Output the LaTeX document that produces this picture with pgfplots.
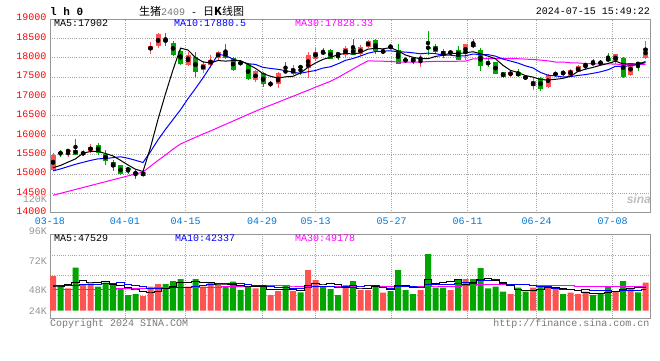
\documentclass[border=0pt]{standalone}
\usepackage{fontspec}
\setmainfont{Liberation Mono}
\newfontfamily\cjk{Noto Sans CJK SC}
\newfontfamily\sansf{Liberation Sans}
\usepackage{pgfplots}
\usepackage{pgfplotstable}
\pgfplotsset{compat=1.18}
\definecolor{kred}{RGB}{255,82,82}
\definecolor{kgreen}{RGB}{0,165,0}
\definecolor{kblue}{RGB}{0,0,255}
\definecolor{kmag}{RGB}{255,0,255}
\definecolor{datecol}{RGB}{0,120,215}
\definecolor{txtgray}{RGB}{120,120,120}
\definecolor{lblgray}{RGB}{150,150,150}
\definecolor{gridcol}{RGB}{165,165,165}
\definecolor{bordercol}{RGB}{150,150,150}

% up candles (red): index open high low close volume(K)
\pgfplotstableread{
i O H L C V
0 15110 15540 15080 15480 69.4
2 15570 15640 15430 15620 44.8
4 15500 15610 15460 15560 51.4
5 15600 15770 15530 15700 54.8
12 14950 15080 14920 15050 29.4
13 18190 18395 18095 18300 48.0
14 18300 18630 18250 18610 53.4
18 17820 18160 17795 18060 48.0
20 17690 17905 17605 17840 48.0
21 17820 18060 17735 17950 56.0
22 17990 18185 17950 18160 51.4
27 17420 17690 17370 17650 44.8
29 17310 17390 17240 17350 31.4
30 17310 17630 17210 17605 39.4
32 17580 17820 17545 17720 39.4
34 17735 18140 17480 18075 81.4
35 17965 18245 17925 18160 61.4
39 18075 18300 18030 18245 51.4
41 18090 18320 18040 18270 41.4
42 18265 18470 18250 18440 41.4
44 18130 18240 18100 18180 36.0
49 17960 18070 17750 17995 41.4
53 18115 18190 18060 18165 41.4
55 18100 18360 17940 18345 63.4
61 17560 17660 17500 17625 33.4
64 17280 17480 17160 17400 46.0
66 17250 17590 17230 17565 51.4
67 17550 17660 17500 17610 44.8
69 17530 17720 17520 17690 36.0
70 17630 17800 17620 17790 33.4
71 17770 17870 17690 17860 38.0
75 17910 18100 17850 18090 39.4
77 17560 17870 17530 17860 44.8
79 17990 18440 17980 18250 56.0
}\upk

% down candles (green)
\pgfplotstableread{
i O H L C V
1 15560 15620 15440 15520 50.0
3 15630 15910 15480 15500 86.0
6 15760 15800 15500 15540 48.0
7 15520 15620 15240 15340 56.0
8 15300 15370 15070 15190 51.4
9 15220 15240 14970 14990 44.8
10 15150 15190 14990 15100 31.4
11 15060 15110 14880 14990 33.4
15 18480 18650 18300 18400 53.4
16 18390 18440 18050 18080 59.4
17 18170 18245 17820 17850 63.4
19 18010 18160 17500 17630 63.4
23 18185 18350 17970 17990 48.0
24 17990 18015 17650 17690 58.0
25 17880 17920 17800 17840 41.4
26 17845 17860 17420 17460 48.0
28 17605 17620 17250 17310 48.0
31 17665 17880 17605 17625 51.4
33 17780 17800 17560 17740 36.8
36 18160 18245 18060 18100 48.0
37 18200 18220 17960 17980 43.4
38 18110 18140 17940 18080 31.4
40 18245 18480 18060 18075 59.4
43 18470 18475 18100 18180 51.4
45 18300 18350 18230 18245 39.4
46 18205 18350 17830 17845 81.4
47 17960 18010 17860 17905 41.4
48 17985 18030 17850 17880 33.4
50 18265 18700 18060 18250 113.4
51 18310 18350 18120 18140 46.0
52 18180 18230 18000 18050 46.0
54 18210 18300 17930 17940 63.4
56 18370 18485 18260 18275 63.4
57 18210 18240 17670 17795 85.4
58 17870 17970 17755 17850 44.8
59 17880 17890 17570 17590 48.0
60 17625 17640 17480 17505 38.0
62 17630 17700 17500 17520 46.0
63 17520 17560 17420 17455 38.0
65 17490 17510 17140 17190 48.0
68 17630 17680 17540 17575 33.4
72 17870 17960 17810 17840 31.4
73 17880 17930 17820 17850 33.4
74 17985 18115 17890 17920 49.4
76 18005 18010 17470 17500 59.4
78 17880 17900 17670 17810 36.8
}\dnk

% price moving averages
\pgfplotstableread{
i m5 m10 m30
0 15160 15080 14450
1 15220 15130 14500
2 15305 15190 14550
3 15390 15250 14600
4 15536 15300 14650
5 15580 15350 14700
6 15584 15390 14750
7 15528 15400 14800
8 15466 15420 14850
9 15352 15444 14900
10 15232 15406 14950
11 15122 15353 15000
12 15064 15296 15050
13 15686 15576 15200
14 16410 15881 15350
15 17070 16151 15490
16 17688 16405 15640
17 18248 16656 15775
18 18200 16943 15860
19 18004 17207 15945
20 17892 17481 16030
21 17866 17777 16110
22 17928 18088 16195
23 17914 18057 16280
24 17926 17965 16365
25 17926 17909 16450
26 17828 17847 16535
27 17726 17827 16620
28 17590 17752 16700
29 17522 17724 16775
30 17475 17701 16850
31 17508 17668 16930
32 17522 17624 17005
33 17608 17599 17085
34 17753 17638 17160
35 17864 17670 17240
36 17959 17734 17315
37 18011 17767 17393
38 18079 17844 17490
39 18113 17933 17600
40 18096 17980 17710
41 18130 18045 17820
42 18222 18117 17920
43 18242 18161 17915
44 18229 18171 17910
45 18263 18180 17905
46 18178 18154 17890
47 18071 18147 17885
48 18011 18127 17885
49 17974 18102 17890
50 17975 18119 17900
51 18034 18106 17905
52 18063 18067 17905
53 18120 18066 17905
54 18109 18042 17910
55 18128 18052 17915
56 18155 18095 17970
57 18104 18084 17975
58 18042 18081 17975
59 17972 18041 17975
60 17804 17966 17975
61 17674 17915 17975
62 17619 17862 17975
63 17539 17791 17965
64 17501 17737 17955
65 17438 17621 17940
66 17426 17550 17920
67 17444 17532 17890
68 17468 17504 17890
69 17526 17514 17870
70 17646 17542 17865
71 17705 17566 17850
72 17751 17598 17845
73 17806 17637 17845
74 17852 17689 17845
75 17912 17779 17835
76 17840 17773 17825
77 17844 17798 17825
78 17836 17821 17825
79 17902 17877 17828
}\pma

% volume moving averages (K)
\pgfplotstableread{
i a5 a10 a30
0 49.4 50.0 42.0
1 49.4 50.0 42.0
2 52.0 50.0 42.0
3 56.8 51.0 43.0
4 60.3 52.0 43.0
5 57.4 53.0 43.0
6 57.0 53.0 43.0
7 59.2 54.0 43.0
8 52.3 55.0 43.0
9 51.0 55.7 44.5
10 46.3 51.9 44.5
11 43.4 50.2 44.5
12 38.1 48.7 44.5
13 37.4 44.9 44.5
14 39.1 45.1 46.0
15 43.5 44.9 46.0
16 48.7 46.1 46.0
17 55.5 46.8 46.0
18 55.5 46.5 46.0
19 57.5 48.3 46.0
20 56.4 50.0 46.0
21 55.8 52.2 47.0
22 53.4 54.4 47.0
23 53.4 54.4 47.5
24 52.3 54.9 48.0
25 51.0 53.7 48.5
26 49.4 52.6 49.0
27 48.0 50.7 49.5
28 48.0 50.7 50.0
29 42.7 47.5 50.5
30 42.3 46.6 49.5
31 43.0 46.2 49.5
32 41.9 45.0 49.4
33 39.7 43.9 47.7
34 49.7 46.2 48.7
35 54.1 48.2 48.9
36 53.4 48.2 48.9
37 54.2 48.1 48.5
38 53.1 46.4 47.9
39 47.1 48.4 48.1
40 46.7 50.4 49.0
41 45.4 49.4 49.3
42 45.0 49.6 49.7
43 49.0 51.1 49.8
44 45.9 46.5 49.2
45 41.9 44.3 48.7
46 49.9 47.7 49.5
47 49.9 47.5 48.7
48 46.3 47.7 48.3
49 47.4 46.7 47.5
50 62.2 52.1 49.7
51 55.1 52.5 49.4
52 56.0 53.0 49.2
53 57.6 52.0 49.0
54 62.0 54.7 49.1
55 52.0 57.1 49.9
56 55.5 55.3 50.4
57 63.4 59.7 51.7
58 64.1 60.9 51.6
59 61.0 61.5 52.2
60 55.9 54.0 52.1
61 49.9 52.7 51.5
62 42.0 52.7 51.8
63 40.7 52.4 51.8
64 40.3 50.6 50.6
65 42.3 49.1 50.2
66 45.9 47.9 50.3
67 45.6 43.8 50.3
68 44.7 42.7 50.4
69 42.7 41.5 49.9
70 39.8 41.0 49.0
71 37.1 41.5 48.9
72 34.4 40.0 48.6
73 34.4 39.6 48.0
74 37.1 39.9 48.4
75 38.3 39.1 48.4
76 42.6 39.9 47.7
77 45.3 39.9 47.8
78 46.0 40.2 47.9
79 47.3 42.2 49.2
}\vma

\pgfplotsset{
  kbase/.style={
    scale only axis, anchor=south west,
    width=600pt, xmin=-0.4, xmax=79.6,
    axis line style={draw=bordercol, line width=1pt},
    tick style={draw=none},
    scaled ticks=false,
    xtick={-0.4,9.6,17.69,27.87,35.03,45.16,55.29,64.49,74.63},
    grid=major,
    grid style={draw=gridcol, line width=0.9pt, dash pattern=on 1pt off 1.2pt},
    /pgf/number format/assume math mode=true,
    ticklabel style={font=\fontsize{10}{12}\selectfont},
  },
  wick/.style={only marks, mark=none, forget plot,
    error bars/.cd, y dir=both, y explicit, error mark=none,
    error bar style={line width=1pt, draw=#1}},
  body/.style={only marks, mark=none, forget plot,
    error bars/.cd, y dir=both, y explicit, error mark=none,
    error bar style={line width=5pt, draw=#1}},
}

\begin{document}
\begin{tikzpicture}[x=1pt,y=1pt]
\fill[white] (0,0) rectangle (660,360);
\path[use as bounding box] (0,0) rectangle (660,360);

% ---------- price panel ----------
\begin{axis}[kbase,
  at={(50pt,147.3pt)}, height=193.7pt,
  ymin=14000, ymax=19000,
  ytick={14000,14500,15000,15500,16000,16500,17000,17500,18000,18500,19000},
  yticklabels={14000,14500,15000,15500,16000,16500,17000,17500,18000,18500,19000},
  yticklabel style={text=red, yshift=1.5pt},
  xticklabels={03-18,04-01,04-15,04-29,05-13,05-27,06-11,06-24,07-08},
  xticklabel style={text=datecol, anchor=center, yshift=-8pt},
]
\addplot[wick=kred] table[x=i, y expr={(\thisrow{H}+\thisrow{L})/2}, y error expr={(\thisrow{H}-\thisrow{L})/2}] {\upk};
\addplot[body=kred] table[x=i, y expr={(\thisrow{O}+\thisrow{C})/2}, y error expr={abs(\thisrow{C}-\thisrow{O})/2}] {\upk};
\addplot[wick=kgreen] table[x=i, y expr={(\thisrow{H}+\thisrow{L})/2}, y error expr={(\thisrow{H}-\thisrow{L})/2}] {\dnk};
\addplot[body=kgreen] table[x=i, y expr={(\thisrow{O}+\thisrow{C})/2}, y error expr={abs(\thisrow{C}-\thisrow{O})/2}] {\dnk};
\addplot[kmag, line width=1pt, mark=none] table[x=i, y=m30] {\pma};
\addplot[kblue, line width=1pt, mark=none] table[x=i, y=m10] {\pma};
\addplot[black, line width=1pt, mark=none] table[x=i, y=m5] {\pma};
\end{axis}

% ---------- volume panel ----------
\begin{axis}[kbase,
  at={(50pt,41.7pt)}, height=84pt,
  ymin=-15.2, ymax=152.8,
  ytick={31.4,71.4,111.4}, yticklabels={},
  xticklabels={},
]
\addplot[ybar, bar width=6pt, bar shift=0pt, fill=kred, draw=none] table[x=i, y=V] {\upk};
\addplot[ybar, bar width=6pt, bar shift=0pt, fill=kgreen, draw=none] table[x=i, y=V] {\dnk};
\addplot[kmag, line width=1pt, mark=none, const plot mark mid] table[x=i, y=a30] {\vma};
\addplot[kblue, line width=1pt, mark=none, const plot mark mid] table[x=i, y=a10] {\vma};
\addplot[black, line width=1pt, mark=none, const plot mark mid] table[x=i, y=a5] {\vma};
\end{axis}

% ---------- texts ----------
\node[anchor=west, inner sep=0pt, font=\fontsize{11}{12}\selectfont\bfseries] at (50,348) {l h 0};
\node[anchor=west, inner sep=0pt] at (139,348.5) {{\cjk\fontsize{11}{12}\selectfont 生猪}{\fontsize{10}{12}\selectfont\color{txtgray}2409}{\fontsize{10}{12}\selectfont{} - }{\cjk\fontsize{11}{12}\selectfont 日\textbf{K}线图}};
\node[anchor=east, inner sep=0pt, font=\fontsize{10}{12}\selectfont] at (650,348.3) {2024-07-15 15:49:22};

\node[anchor=west, inner sep=0pt, font=\fontsize{10}{12}\selectfont, text=black] at (54,336.3) {MA5:17902};
\node[anchor=west, inner sep=0pt, font=\fontsize{10}{12}\selectfont, text=kblue] at (174,336.3) {MA10:17880.5};
\node[anchor=west, inner sep=0pt, font=\fontsize{10}{12}\selectfont, text=kmag] at (295,336.3) {MA30:17828.33};

\node[anchor=west, inner sep=0pt, font=\fontsize{10}{12}\selectfont, text=black] at (54,121.7) {MA5:47529};
\node[anchor=west, inner sep=0pt, font=\fontsize{10}{12}\selectfont, text=kblue] at (175,121.7) {MA10:42337};
\node[anchor=west, inner sep=0pt, font=\fontsize{10}{12}\selectfont, text=kmag] at (295,121.7) {MA30:49178};

\node[anchor=east, inner sep=0pt, font=\fontsize{10}{12}\selectfont, text=lblgray] at (47,160.3) {120K};
\node[anchor=east, inner sep=0pt, font=\fontsize{10}{12}\selectfont, text=lblgray] at (47,129.3) {96K};
\node[anchor=east, inner sep=0pt, font=\fontsize{10}{12}\selectfont, text=lblgray] at (47,99) {72K};
\node[anchor=east, inner sep=0pt, font=\fontsize{10}{12}\selectfont, text=lblgray] at (47,70) {48K};
\node[anchor=east, inner sep=0pt, font=\fontsize{10}{12}\selectfont, text=lblgray] at (47,49.3) {24K};

\node[anchor=west, inner sep=0pt, font=\fontsize{10}{12}\selectfont, text=txtgray] at (50,36.3) {Copyright 2024 SINA.COM};
\node[anchor=east, inner sep=0pt, font=\fontsize{10}{12}\selectfont, text=txtgray] at (649.5,36.3) {http://finance.sina.com.cn};

\node[anchor=east, inner sep=0pt, font=\sansf\fontsize{12}{12}\selectfont\bfseries\itshape, text=black!25] at (651,161) {sina};
\end{tikzpicture}
\end{document}
